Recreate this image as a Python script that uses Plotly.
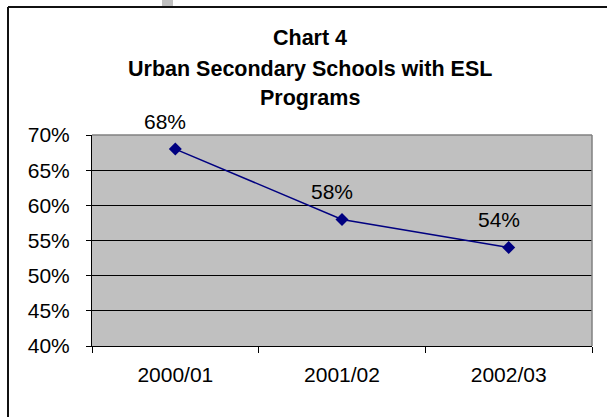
import plotly.graph_objects as go

# Share of urban secondary schools offering ESL programs, by school year
years = ["2000/01", "2001/02", "2002/03"]
share = [0.68, 0.58, 0.54]
label_text = ["68%", "58%", "54%"]

title_lines = ["Chart 4", "Urban Secondary Schools with ESL", "Programs"]

FONT = "Arial, Liberation Sans, sans-serif"
W, H = 607, 417
ML, MR, MT, MB = 92, 15, 135, 71
PW, PH = W - ML - MR, H - MT - MB


def px_x(px):
    return (px - ML) / PW


def px_y(py):
    return (H - MB - py) / PH


fig = go.Figure()
fig.add_trace(go.Scatter(
    x=years, y=share, mode="lines+markers",
    line=dict(color="#000080", width=1.5),
    marker=dict(symbol="diamond", size=10, color="#000080"),
    hoverinfo="skip", cliponaxis=False,
))

annotations = []
for xv, yv, t in zip(years, share, label_text):
    annotations.append(dict(
        x=xv, y=yv, xref="x", yref="y", text=t, showarrow=False,
        xshift=-10, yshift=28, font=dict(family=FONT, size=21, color="#000"),
    ))

title_y = [38, 69, 98]
for line, ty in zip(title_lines, title_y):
    annotations.append(dict(
        x=px_x(310), y=px_y(ty), xref="paper", yref="paper", text="<b>" + line + "</b>",
        showarrow=False, xanchor="center", yanchor="middle",
        font=dict(family=FONT, size=21.5, color="#000"),
    ))

shapes = [
    # outer chart frame (left and top edges)
    dict(type="line", xref="paper", yref="paper", x0=px_x(8), x1=px_x(8),
         y0=px_y(7), y1=px_y(430), line=dict(color="#111", width=2)),
    dict(type="line", xref="paper", yref="paper", x0=px_x(8), x1=px_x(620),
         y0=px_y(7), y1=px_y(7), line=dict(color="#111", width=2)),
    # small grey block above the frame
    dict(type="rect", xref="paper", yref="paper", x0=px_x(162), x1=px_x(173),
         y0=px_y(0), y1=px_y(6), fillcolor="#c0c0c0", line=dict(width=0)),
    # plot area edges (top and right)
    dict(type="line", xref="paper", yref="paper", x0=0, x1=1, y0=1, y1=1,
         line=dict(color="#808080", width=1.5), layer="above"),
    dict(type="line", xref="paper", yref="paper", x0=1, x1=1, y0=0, y1=1,
         line=dict(color="#808080", width=1.5), layer="above"),
]

fig.update_layout(
    width=W, height=H,
    margin=dict(l=ML, r=MR, t=MT, b=MB, pad=0),
    paper_bgcolor="#fff", plot_bgcolor="#c0c0c0",
    showlegend=False,
    annotations=annotations, shapes=shapes,
    font=dict(family=FONT, size=21, color="#000"),
    xaxis=dict(
        type="category", range=[-0.5, 2.5], showgrid=False, zeroline=False,
        showline=True, linecolor="#000", linewidth=1,
        ticks="outside", ticklen=6, tickcolor="#000", tickson="boundaries",
        tickfont=dict(family=FONT, size=21, color="#000"),
        ticklabelstandoff=10,
    ),
    yaxis=dict(
        range=[0.40, 0.70], dtick=0.05, tick0=0.40, tickformat=".0%",
        showgrid=True, gridcolor="#000", gridwidth=1, zeroline=False,
        showline=True, linecolor="#000", linewidth=1,
        ticks="outside", ticklen=5, tickcolor="#000",
        tickfont=dict(family=FONT, size=21, color="#000"),
        ticklabelstandoff=12,
    ),
)

fig.write_html("out.html")
